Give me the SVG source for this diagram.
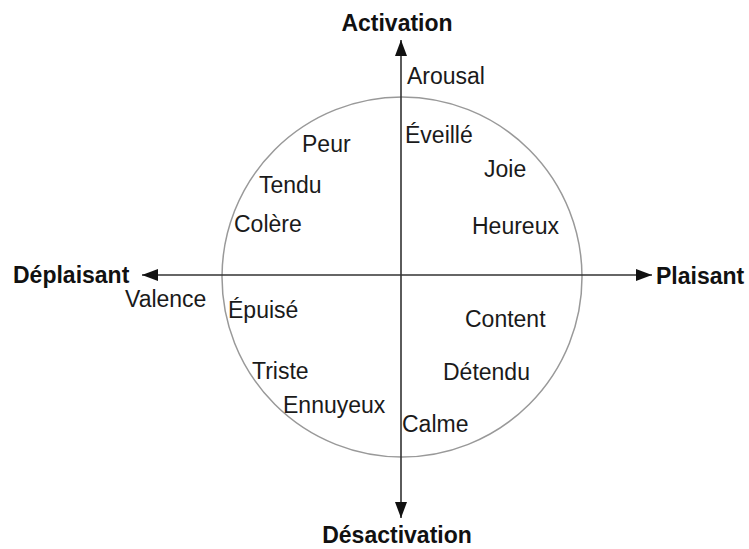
<svg xmlns="http://www.w3.org/2000/svg" width="749" height="549" viewBox="0 0 749 549">
<style>
.lbl{font-family:"Liberation Sans",Arial,sans-serif;font-size:23px;fill:#1a1a1a}
.axis{font-family:"Liberation Sans",Arial,sans-serif;font-size:23px;font-weight:bold;fill:#111}
.ax{stroke:#333;stroke-width:1.6;fill:none}
</style>
<defs>
<marker id="ah" viewBox="0 0 16 12" refX="16" refY="6" markerWidth="16" markerHeight="12" markerUnits="userSpaceOnUse" orient="auto">
<path d="M0,0 L16,6 L0,12 Z" fill="#111"/>
</marker>
</defs>
<g id="circle"><circle cx="402" cy="277" r="180" fill="none" stroke="#999" stroke-width="1.5"/></g>
<g id="connectors">
<line class="ax" x1="401" y1="275" x2="401" y2="40" marker-end="url(#ah)"/>
<line class="ax" x1="401" y1="275" x2="401" y2="518" marker-end="url(#ah)"/>
<line class="ax" x1="401" y1="275" x2="142" y2="275" marker-end="url(#ah)"/>
<line class="ax" x1="401" y1="275" x2="652" y2="275" marker-end="url(#ah)"/>
</g>
<g id="n-activation"><text class="axis" x="397" y="31" text-anchor="middle">Activation</text></g>
<g id="n-desactivation"><text class="axis" x="397" y="543" text-anchor="middle">Désactivation</text></g>
<g id="n-deplaisant"><text class="axis" x="13" y="283">Déplaisant</text></g>
<g id="n-plaisant"><text class="axis" x="656" y="284">Plaisant</text></g>
<g id="n-arousal"><text class="lbl" x="407" y="84">Arousal</text></g>
<g id="n-valence"><text class="lbl" x="125" y="307">Valence</text></g>
<g id="n-eveille"><text class="lbl" x="405" y="143">Éveillé</text></g>
<g id="n-peur"><text class="lbl" x="302" y="152">Peur</text></g>
<g id="n-joie"><text class="lbl" x="484" y="177">Joie</text></g>
<g id="n-tendu"><text class="lbl" x="259" y="193">Tendu</text></g>
<g id="n-colere"><text class="lbl" x="234" y="232">Colère</text></g>
<g id="n-heureux"><text class="lbl" x="472" y="234">Heureux</text></g>
<g id="n-epuise"><text class="lbl" x="228" y="318">Épuisé</text></g>
<g id="n-content"><text class="lbl" x="465" y="327">Content</text></g>
<g id="n-triste"><text class="lbl" x="252" y="379">Triste</text></g>
<g id="n-detendu"><text class="lbl" x="443" y="380">Détendu</text></g>
<g id="n-ennuyeux"><text class="lbl" x="283" y="413">Ennuyeux</text></g>
<g id="n-calme"><text class="lbl" x="402" y="432">Calme</text></g>
</svg>
